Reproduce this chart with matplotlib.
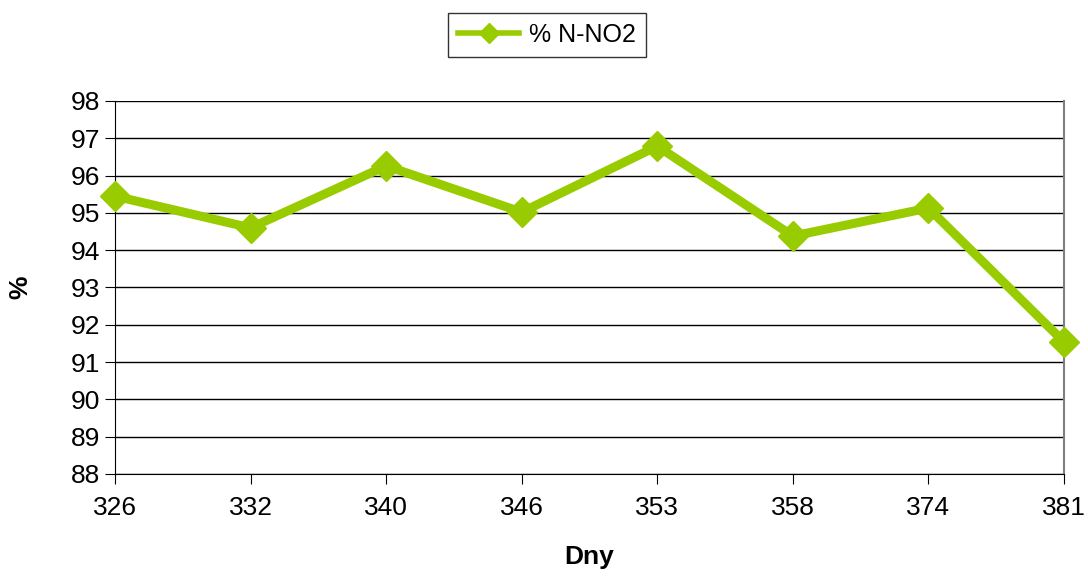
import matplotlib
matplotlib.use("Agg")
import matplotlib.pyplot as plt
from matplotlib.lines import Line2D

plt.rcParams['font.family'] = ['Liberation Sans', 'DejaVu Sans']

days = ["326", "332", "340", "346", "353", "358", "374", "381"]
pct_no2 = [95.45, 94.6, 96.26, 95.02, 96.79, 94.38, 95.13, 91.54]
yticks = list(range(88, 99))

color = "#99CC00"
fig = plt.figure(figsize=(10.88, 5.8), dpi=100)
ax = fig.add_axes([115/1088, 1-474/580, (1064-115)/1088, (474-101)/580])

x = list(range(len(days)))
ax.plot(x, pct_no2, color=color, lw=6.5, marker="D", ms=15, mec=color, mfc=color,
        label="% N-NO2", clip_on=False, zorder=3)

ax.set_xlim(0, len(days)-1)
ax.set_ylim(88, 98)
ax.set_xticks(x)
ax.set_xticklabels(days)
ax.set_yticks(yticks)
ax.grid(axis="y", color="black", lw=1)
ax.set_axisbelow(True)
ax.spines["top"].set_visible(False)
ax.spines["right"].set_color("#808080")
ax.spines["right"].set_linewidth(1.5)
ax.spines["left"].set_color("black")
ax.spines["bottom"].set_color("black")
ax.tick_params(axis="both", labelsize=19, direction="out", length=7.5, color="black")
ax.tick_params(axis="x", pad=8)
ax.tick_params(axis="y", pad=3)
ax.set_xlabel("Dny", fontsize=19, fontweight="bold", labelpad=18)
ax.set_ylabel("%", fontsize=19, fontweight="bold", labelpad=28)

handle = Line2D([], [], color=color, lw=4, marker="D", ms=10, mec=color, mfc=color)
leg = fig.legend([handle], ["% N-NO2"], loc="center", bbox_to_anchor=(547/1088, 1-35/580),
                 fontsize=18, frameon=True, fancybox=False, edgecolor="black",
                 handlelength=2.45, borderpad=0.4, handletextpad=0.4, borderaxespad=0)
leg.get_frame().set_linewidth(1)

fig.savefig("out.png", dpi=100)
